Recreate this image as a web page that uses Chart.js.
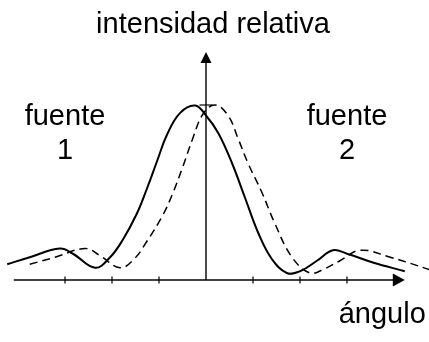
<!DOCTYPE html>
<html>
<head>
<meta charset="utf-8">
<script src="https://cdn.jsdelivr.net/npm/chart.js@4/dist/chart.umd.min.js"></script>
<style>
  html, body { margin: 0; padding: 0; background: #fff; }
  canvas { display: block; }
</style>
</head>
<body>
<canvas id="c" width="429" height="342"></canvas>
<script>
// Angle positions of the tick marks on the horizontal axis
const angleTicks = [-3, -2, -1, 1, 2, 3];
// Reference intensity level marked on the vertical axis
const intensityTick = 1;

// Diffraction pattern of source 1 (solid)
const source1Angle = [-4.23, -3.75, -3.11, -2.83, -2.36, -2.04, -1.77, -1.47, -1.26, -1.04, -0.83, -0.55, -0.23, 0.00, 0.26, 0.55, 0.83, 1.11, 1.40, 1.72, 2.00, 2.36, 2.70, 3.00, 3.55, 4.23];
const source1Intensity = [0.09, 0.13, 0.18, 0.15, 0.07, 0.13, 0.23, 0.38, 0.52, 0.68, 0.83, 0.955, 0.997, 0.94, 0.84, 0.67, 0.47, 0.27, 0.12, 0.04, 0.05, 0.11, 0.17, 0.15, 0.10, 0.05];

// Diffraction pattern of source 2 (dashed)
const source2Angle = [-3.75, -3.21, -2.57, -2.26, -1.83, -1.53, -1.26, -0.92, -0.70, -0.49, -0.28, -0.06, 0.19, 0.47, 0.68, 0.89, 1.19, 1.47, 1.83, 2.21, 2.49, 2.85, 3.28, 3.92, 4.75];
const source2Intensity = [0.09, 0.13, 0.18, 0.14, 0.07, 0.12, 0.22, 0.37, 0.50, 0.65, 0.81, 0.95, 1.0, 0.94, 0.81, 0.67, 0.50, 0.32, 0.13, 0.04, 0.06, 0.11, 0.17, 0.13, 0.06];

// Text drawn on the figure
const yAxisTitle = 'intensidad relativa';
const xAxisTitle = 'ángulo';
const sourceLabels = [['fuente', '1'], ['fuente', '2']];
const sourceLabelAngles = [-3, 3];

const toPoints = (xs, ys) => xs.map((x, i) => ({ x: x, y: ys[i] }));

const FONT = '29px "Liberation Sans", Arial, sans-serif';
const INK = '#000';

// Draws both axes with arrowheads, tick marks and the text labels
const axesPlugin = {
  id: 'arrowAxes',
  beforeDatasetsDraw(chart) {
    const ctx = chart.ctx;
    const xs = chart.scales.x, ys = chart.scales.y;
    const x0 = xs.getPixelForValue(0), y0 = ys.getPixelForValue(0);
    const xStart = xs.getPixelForValue(-4.09);
    const xTip = xs.getPixelForValue(4.23);
    const yTip = ys.getPixelForValue(1.303);

    ctx.save();
    ctx.strokeStyle = INK;
    ctx.fillStyle = INK;
    ctx.lineWidth = 1.4;

    // horizontal axis
    ctx.beginPath();
    ctx.moveTo(xStart, y0);
    ctx.lineTo(xTip - 10, y0);
    ctx.stroke();
    ctx.beginPath();
    ctx.moveTo(xTip, y0);
    ctx.lineTo(xTip - 12, y0 - 6.5);
    ctx.lineTo(xTip - 12, y0 + 6.5);
    ctx.closePath();
    ctx.fill();

    // vertical axis
    ctx.beginPath();
    ctx.moveTo(x0, y0);
    ctx.lineTo(x0, yTip + 8);
    ctx.stroke();
    ctx.beginPath();
    ctx.moveTo(x0, yTip);
    ctx.lineTo(x0 - 5.5, yTip + 11);
    ctx.lineTo(x0 + 5.5, yTip + 11);
    ctx.closePath();
    ctx.fill();

    // tick marks
    ctx.lineWidth = 1.2;
    angleTicks.forEach(t => {
      const px = xs.getPixelForValue(t);
      ctx.beginPath();
      ctx.moveTo(px, y0 - 3.5);
      ctx.lineTo(px, y0 + 3.5);
      ctx.stroke();
    });
    const py = ys.getPixelForValue(intensityTick);
    ctx.beginPath();
    ctx.moveTo(x0 - 6.5, py);
    ctx.lineTo(x0 + 6.5, py);
    ctx.stroke();

    // labels
    ctx.font = FONT;
    ctx.textAlign = 'center';
    ctx.textBaseline = 'alphabetic';
    ctx.fillText(yAxisTitle, x0 + 7, 33);
    ctx.fillText(xAxisTitle, xs.getPixelForValue(3.75), 323);
    sourceLabels.forEach((lines, i) => {
      const px = xs.getPixelForValue(sourceLabelAngles[i]);
      ctx.fillText(lines[0], px, 125);
      ctx.fillText(lines[1], px, 159);
    });
    ctx.restore();
  }
};

new Chart(document.getElementById('c'), {
  type: 'line',
  data: {
    datasets: [
      {
        label: 'fuente 1',
        data: toPoints(source1Angle, source1Intensity),
        borderColor: INK,
        borderWidth: 2,
        pointRadius: 0,
        tension: 0.4,
        fill: false
      },
      {
        label: 'fuente 2',
        data: toPoints(source2Angle, source2Intensity),
        borderColor: INK,
        borderWidth: 1.5,
        borderDash: [8, 5],
        pointRadius: 0,
        tension: 0.4,
        fill: false
      }
    ]
  },
  options: {
    responsive: false,
    animation: false,
    devicePixelRatio: 1,
    layout: { padding: 0 },
    plugins: { legend: { display: false }, tooltip: { enabled: false } },
    scales: {
      x: { type: 'linear', min: -206 / 47, max: 223 / 47, display: false },
      y: { type: 'linear', min: -62 / 175, max: 280 / 175, display: false }
    }
  },
  plugins: [axesPlugin]
});
</script>
</body>
</html>
